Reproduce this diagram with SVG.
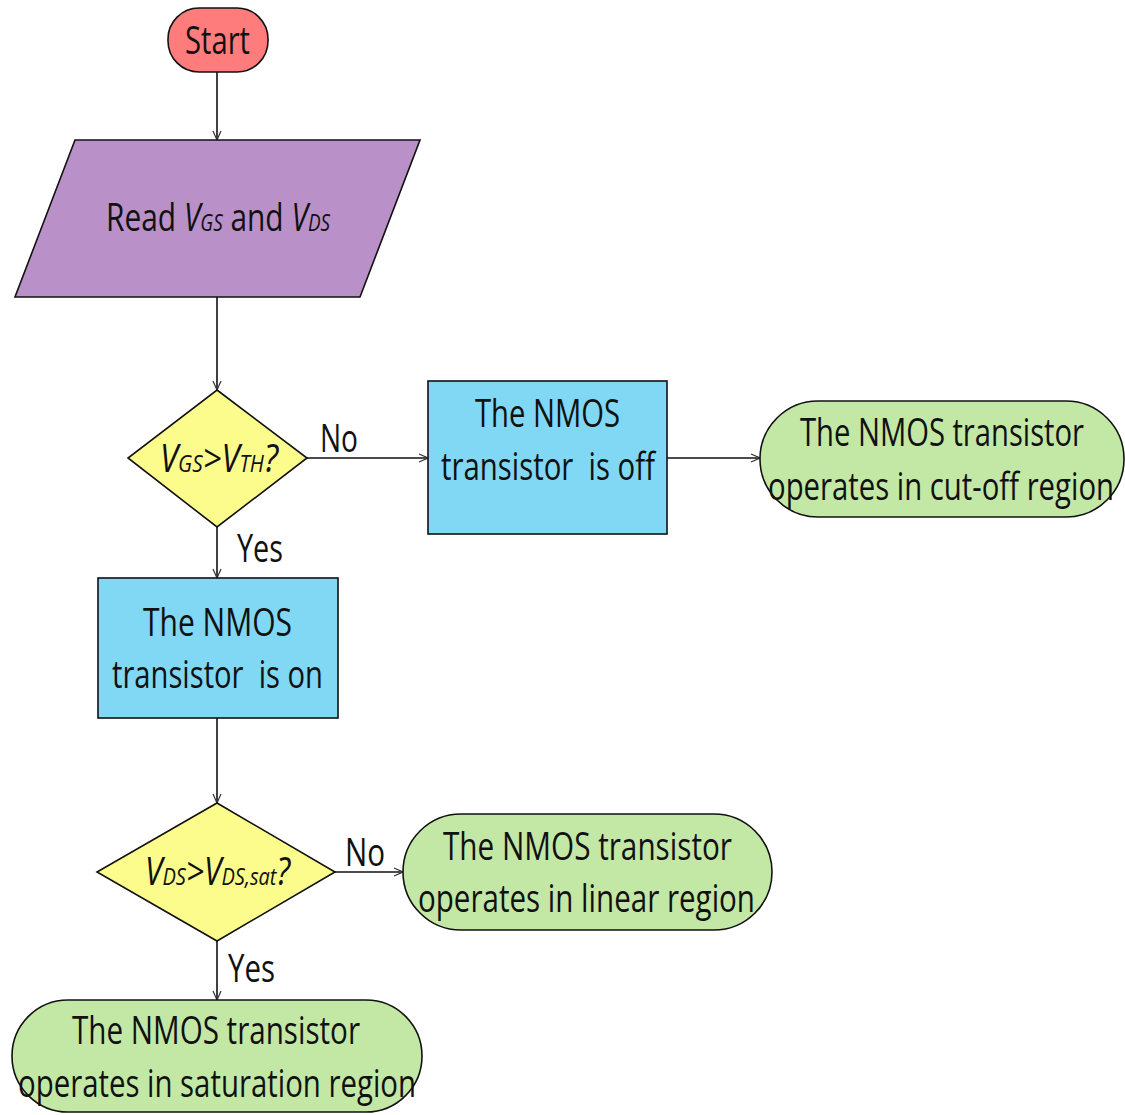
<svg xmlns="http://www.w3.org/2000/svg" width="1125" height="1115" viewBox="0 0 1125 1115">
<style>
.s{stroke:#111;stroke-width:1.6}
.t{font-family:"Open Sans","Liberation Sans",sans-serif;font-size:38px;fill:#111}
.i{font-style:italic}
.sub{font-size:24px;font-style:italic}
.c{stroke:#111;stroke-width:1.6;fill:none;marker-end:url(#a)}
</style>
<defs>
<marker id="a" viewBox="0 0 10 10" refX="10" refY="5" markerWidth="10" markerHeight="10" markerUnits="userSpaceOnUse" orient="auto">
<path d="M1,1 L10,5 L1,9" fill="none" stroke="#333" stroke-width="1.2"/>
</marker>
</defs>
<rect width="1125" height="1115" fill="#fff"/>
<g id="connectors">
<line class="c" x1="217" y1="72" x2="217" y2="140"/>
<line class="c" x1="217" y1="297" x2="217" y2="390"/>
<line class="c" x1="307" y1="458" x2="428" y2="458"/>
<line class="c" x1="667" y1="458" x2="760" y2="458"/>
<line class="c" x1="217" y1="527" x2="217" y2="578"/>
<line class="c" x1="217" y1="718" x2="217" y2="803"/>
<line class="c" x1="335" y1="872" x2="403" y2="872"/>
<line class="c" x1="217" y1="941" x2="217" y2="1000"/>
<text class="t" x="320" y="452" textLength="38" lengthAdjust="spacingAndGlyphs">No</text>
<text class="t" x="237" y="562" textLength="46" lengthAdjust="spacingAndGlyphs">Yes</text>
<text class="t" x="345" y="866" textLength="40" lengthAdjust="spacingAndGlyphs">No</text>
<text class="t" x="228" y="982" textLength="47" lengthAdjust="spacingAndGlyphs">Yes</text>
</g>
<g id="start">
<rect class="s" x="168" y="8" width="100" height="64" rx="31" fill="#FF7C7C"/>
<text class="t" x="185" y="54" textLength="65" lengthAdjust="spacingAndGlyphs">Start</text>
</g>
<g id="read">
<polygon class="s" points="75,140 420,140 360,297 15,297" fill="#B990C8"/>
<text class="t" x="106" y="231" textLength="224" lengthAdjust="spacingAndGlyphs">Read <tspan class="i">V</tspan><tspan class="sub">GS</tspan> and <tspan class="i">V</tspan><tspan class="sub">DS</tspan></text>
</g>
<g id="decision1">
<polygon class="s" points="217,390 307,458 217,527 128,458" fill="#FCFC8C"/>
<text class="t" x="160" y="472" textLength="118" lengthAdjust="spacingAndGlyphs"><tspan class="i">V</tspan><tspan class="sub">GS</tspan><tspan class="i">&gt;V</tspan><tspan class="sub">TH</tspan><tspan class="i">?</tspan></text>
</g>
<g id="off">
<rect class="s" x="428" y="381" width="239" height="153" fill="#80D8F5"/>
<text class="t" x="475" y="427" textLength="145" lengthAdjust="spacingAndGlyphs">The NMOS</text>
<text class="t" x="441" y="480" textLength="214" lengthAdjust="spacingAndGlyphs" xml:space="preserve" style="white-space:pre">transistor  is off</text>
</g>
<g id="cutoff">
<rect class="s" x="760" y="401" width="364" height="116" rx="58" fill="#C3E8A6"/>
<text class="t" x="800" y="446" textLength="284" lengthAdjust="spacingAndGlyphs">The NMOS transistor</text>
<text class="t" x="768" y="500" textLength="346" lengthAdjust="spacingAndGlyphs">operates in cut-off region</text>
</g>
<g id="on">
<rect class="s" x="98" y="578" width="240" height="140" fill="#80D8F5"/>
<text class="t" x="143" y="636" textLength="149" lengthAdjust="spacingAndGlyphs">The NMOS</text>
<text class="t" x="112" y="688" textLength="211" lengthAdjust="spacingAndGlyphs" xml:space="preserve" style="white-space:pre">transistor  is on</text>
</g>
<g id="decision2">
<polygon class="s" points="217,803 335,872 217,941 97,872" fill="#FCFC8C"/>
<text class="t" x="145" y="885" textLength="145" lengthAdjust="spacingAndGlyphs"><tspan class="i">V</tspan><tspan class="sub">DS</tspan><tspan class="i">&gt;V</tspan><tspan class="sub">DS,sat</tspan><tspan class="i">?</tspan></text>
</g>
<g id="linear">
<rect class="s" x="403" y="814" width="369" height="116" rx="58" fill="#C3E8A6"/>
<text class="t" x="443" y="860" textLength="289" lengthAdjust="spacingAndGlyphs">The NMOS transistor</text>
<text class="t" x="418" y="912" textLength="337" lengthAdjust="spacingAndGlyphs">operates in linear region</text>
</g>
<g id="saturation">
<rect class="s" x="12" y="1000" width="410" height="112" rx="56" fill="#C3E8A6"/>
<text class="t" x="72" y="1044" textLength="288" lengthAdjust="spacingAndGlyphs">The NMOS transistor</text>
<text class="t" x="18" y="1097" textLength="398" lengthAdjust="spacingAndGlyphs">operates in saturation region</text>
</g>
</svg>
